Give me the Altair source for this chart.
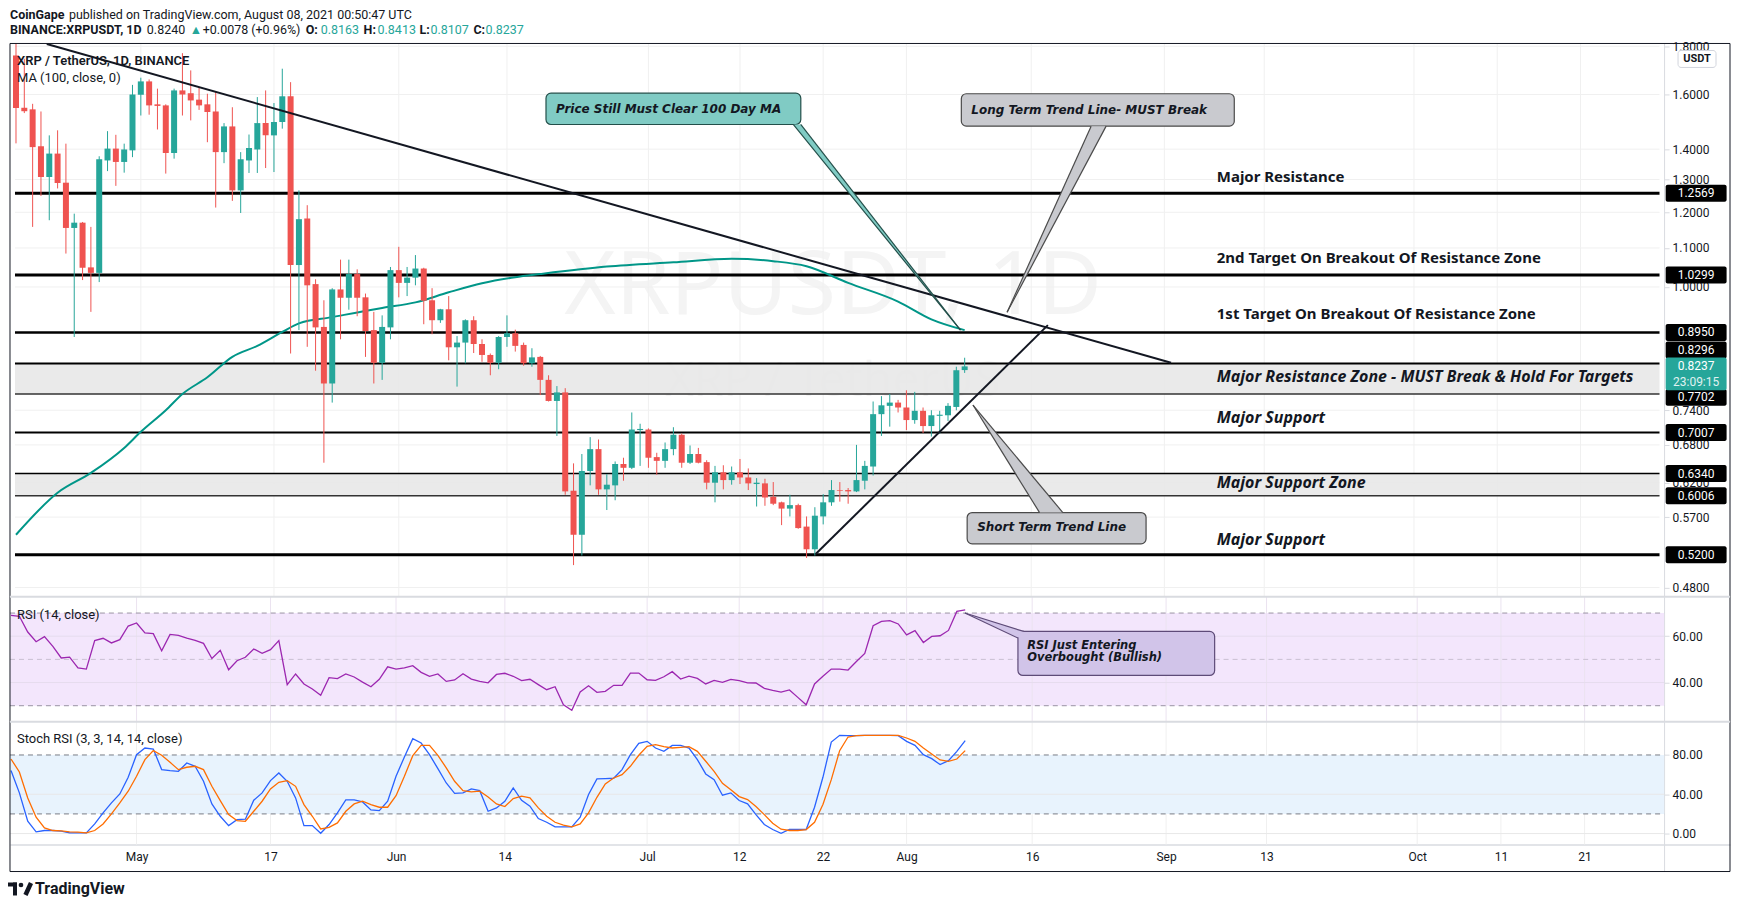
import math
import altair as alt
import pandas as pd

# ---------------- data ----------------
START = "2021-04-16"   # first daily candle

opens = [1.760, 1.549, 1.543, 1.410, 1.308, 1.385, 1.290, 1.155, 1.170, 1.049,
         1.035, 1.362, 1.402, 1.357, 1.396, 1.599, 1.652, 1.562, 1.558, 1.387,
         1.616, 1.605, 1.580, 1.562, 1.535, 1.390, 1.480, 1.266, 1.362, 1.399,
         1.492, 1.448, 1.496, 1.593, 1.055, 1.182, 1.007, 0.907, 0.790, 0.994,
         0.974, 1.032, 0.975, 0.900, 0.831, 0.906, 1.042, 1.010, 1.023, 1.046,
         0.968, 0.922, 0.947, 0.863, 0.873, 0.922, 0.870, 0.847, 0.831, 0.885,
         0.893, 0.868, 0.830, 0.843, 0.797, 0.757, 0.773, 0.608, 0.546, 0.638,
         0.673, 0.610, 0.616, 0.649, 0.643, 0.705, 0.706, 0.660, 0.654, 0.673,
         0.697, 0.651, 0.665, 0.652, 0.620, 0.636, 0.624, 0.636, 0.628, 0.618,
         0.619, 0.599, 0.591, 0.582, 0.587, 0.557, 0.527, 0.571, 0.591, 0.609,
         0.609, 0.607, 0.623, 0.645, 0.733, 0.748, 0.754, 0.745, 0.7225, 0.739,
         0.712, 0.730, 0.731, 0.746, 0.8163]
highs = [1.812, 1.746, 1.564, 1.535, 1.448, 1.466, 1.419, 1.196, 1.172, 1.158,
         1.376, 1.463, 1.450, 1.419, 1.638, 1.667, 1.660, 1.623, 1.562, 1.623,
         1.770, 1.697, 1.629, 1.603, 1.610, 1.492, 1.551, 1.390, 1.451, 1.590,
         1.616, 1.567, 1.704, 1.649, 1.266, 1.221, 1.019, 0.968, 0.997, 1.069,
         1.069, 1.044, 0.984, 0.941, 0.933, 1.050, 1.103, 1.050, 1.081, 1.048,
         0.997, 0.948, 0.978, 0.887, 0.924, 0.931, 0.880, 0.850, 0.887, 0.933,
         0.901, 0.873, 0.861, 0.845, 0.806, 0.785, 0.781, 0.650, 0.665, 0.693,
         0.689, 0.633, 0.653, 0.659, 0.736, 0.716, 0.708, 0.667, 0.684, 0.710,
         0.699, 0.679, 0.675, 0.655, 0.646, 0.647, 0.645, 0.657, 0.642, 0.627,
         0.626, 0.621, 0.592, 0.602, 0.589, 0.571, 0.584, 0.603, 0.624, 0.621,
         0.612, 0.680, 0.654, 0.756, 0.766, 0.770, 0.759, 0.777, 0.774, 0.745,
         0.740, 0.739, 0.753, 0.823, 0.8413]
lows = [1.420, 1.529, 1.158, 1.249, 1.177, 1.272, 1.085, 0.885, 1.017, 0.941,
        1.012, 1.327, 1.280, 1.322, 1.373, 1.520, 1.523, 1.469, 1.319, 1.368,
        1.520, 1.502, 1.541, 1.424, 1.214, 1.353, 1.234, 1.198, 1.321, 1.321,
        1.337, 1.324, 1.472, 0.850, 0.900, 0.864, 0.815, 0.651, 0.754, 0.880,
        0.946, 0.931, 0.843, 0.790, 0.797, 0.880, 0.975, 0.978, 1.004, 0.913,
        0.891, 0.916, 0.836, 0.784, 0.830, 0.851, 0.833, 0.806, 0.818, 0.864,
        0.854, 0.825, 0.823, 0.768, 0.756, 0.695, 0.602, 0.507, 0.519, 0.616,
        0.602, 0.580, 0.594, 0.623, 0.641, 0.646, 0.643, 0.632, 0.643, 0.663,
        0.643, 0.649, 0.650, 0.610, 0.591, 0.610, 0.617, 0.618, 0.609, 0.585,
        0.586, 0.587, 0.559, 0.571, 0.554, 0.516, 0.519, 0.560, 0.586, 0.592,
        0.589, 0.606, 0.610, 0.631, 0.695, 0.711, 0.736, 0.705, 0.716, 0.700,
        0.694, 0.699, 0.721, 0.740, 0.8107]
closes = [1.548, 1.536, 1.407, 1.308, 1.385, 1.289, 1.155, 1.170, 1.048, 1.035,
          1.366, 1.402, 1.357, 1.399, 1.600, 1.652, 1.558, 1.556, 1.387, 1.616,
          1.600, 1.577, 1.558, 1.533, 1.390, 1.480, 1.266, 1.366, 1.404, 1.492,
          1.448, 1.496, 1.593, 1.055, 1.180, 1.004, 0.906, 0.790, 0.994, 0.974,
          1.032, 0.974, 0.898, 0.831, 0.907, 1.042, 1.010, 1.023, 1.046, 0.967,
          0.922, 0.947, 0.863, 0.873, 0.922, 0.870, 0.847, 0.831, 0.885, 0.893,
          0.866, 0.830, 0.842, 0.797, 0.757, 0.773, 0.607, 0.546, 0.638, 0.673,
          0.610, 0.617, 0.649, 0.643, 0.706, 0.707, 0.659, 0.654, 0.673, 0.697,
          0.651, 0.665, 0.651, 0.620, 0.636, 0.624, 0.636, 0.628, 0.619, 0.620,
          0.598, 0.589, 0.582, 0.587, 0.555, 0.527, 0.572, 0.591, 0.609, 0.608,
          0.607, 0.624, 0.646, 0.733, 0.749, 0.754, 0.745, 0.7225, 0.739, 0.712,
          0.731, 0.732, 0.748, 0.816, 0.8237]

rsi = [69.0, 68.6, 61.8, 57.6, 59.8, 55.6, 50.6, 51.0, 46.3, 45.8,
       58.1, 59.1, 57.1, 58.5, 64.4, 65.7, 61.4, 61.1, 53.7, 60.8,
       60.4, 59.2, 58.2, 56.9, 50.4, 53.9, 45.5, 49.4, 50.9, 54.5,
       52.6, 54.2, 58.1, 39.1, 43.7, 39.4, 37.2, 34.5, 42.1, 41.7,
       43.7, 42.4, 40.2, 38.2, 41.4, 46.8, 45.8, 46.3, 47.3, 44.4,
       42.7, 43.7, 40.5, 41.1, 43.8, 41.5, 40.5, 39.9, 43.5, 44.0,
       42.7, 40.8, 41.4, 39.1, 36.9, 38.2, 30.4, 28.0, 35.9, 38.6,
       35.8, 36.2, 38.8, 38.8, 44.1, 44.1, 41.2, 40.9, 42.5, 44.7,
       41.5, 42.8, 41.8, 39.4, 40.9, 40.1, 41.4, 40.8, 39.9, 39.8,
       37.5, 36.6, 35.9, 36.8, 33.6, 30.4, 39.4, 42.7, 45.8, 45.8,
       45.4, 49.1, 52.6, 64.5, 66.4, 66.7, 65.3, 60.6, 62.4, 57.3,
       59.9, 60.2, 62.5, 70.7, 71.4]

stoch_k = [64.1, 41.4, 12.5, 1.7, 3.1, 3.1, 2.4, 0.7, 0.7, 0.7,
           9.8, 21.0, 31.2, 40.3, 57.3, 80.3, 87.1, 86.1, 65.1, 64.1,
           63.4, 71.9, 68.5, 53.2, 30.2, 17.6, 8.1, 14.2, 14.6, 33.9,
           41.4, 53.9, 61.7, 53.2, 36.3, 8.1, 8.1, 0.3, 9.2, 21.0,
           34.2, 34.2, 32.2, 24.1, 23.4, 32.9, 58.3, 78.0, 96.6, 92.2,
           80.3, 66.1, 51.5, 41.0, 41.4, 45.4, 43.7, 22.7, 26.1, 32.9,
           46.4, 33.9, 27.8, 15.3, 11.5, 6.8, 6.8, 6.8, 16.6, 39.7,
           55.6, 55.9, 56.3, 65.1, 80.3, 91.9, 93.9, 87.1, 83.7, 89.8,
           89.8, 87.1, 75.3, 60.7, 54.9, 39.0, 41.4, 33.6, 30.2, 19.3,
           9.2, 4.1, 0.3, 4.1, 4.1, 4.1, 26.8, 57.3, 93.2, 100.0,
           99.7, 99.7, 100.0, 100.0, 100.0, 100.0, 99.7, 93.9, 89.8, 80.3,
           76.3, 70.2, 74.2, 83.7, 94.6]
stoch_d = [75.9, 62.7, 36.3, 16.6, 5.8, 3.1, 2.7, 1.7, 1.4, 0.7,
           3.1, 9.8, 20.0, 31.2, 43.1, 58.3, 75.3, 84.4, 79.7, 72.5,
           65.1, 67.5, 68.5, 65.1, 48.1, 33.6, 19.3, 13.2, 12.5, 22.7,
           32.9, 45.4, 52.2, 53.9, 48.1, 29.5, 17.6, 4.7, 6.4, 10.8,
           22.7, 30.2, 32.9, 29.5, 26.8, 26.8, 38.6, 58.3, 79.3, 89.8,
           89.8, 79.7, 66.8, 53.2, 43.7, 42.4, 43.1, 37.3, 30.2, 27.5,
           35.6, 38.0, 36.3, 26.1, 17.6, 11.5, 8.5, 6.8, 9.8, 21.0,
           36.9, 50.5, 56.6, 60.0, 68.5, 79.7, 88.8, 90.5, 88.5, 87.1,
           87.8, 88.5, 83.7, 73.6, 63.4, 51.2, 44.7, 37.6, 34.6, 27.5,
           19.3, 10.5, 4.4, 3.1, 3.1, 4.1, 11.5, 29.5, 54.9, 84.4,
           98.3, 99.7, 100.0, 100.0, 100.0, 100.0, 100.0, 97.3, 93.9, 87.1,
           81.0, 74.9, 73.6, 75.9, 84.4]

ma_dates = ["2021-04-16", "2021-04-21", "2021-04-25", "2021-04-29", "2021-05-01",
            "2021-05-04", "2021-05-06", "2021-05-09", "2021-05-12", "2021-05-15",
            "2021-05-18", "2021-05-20", "2021-05-24", "2021-05-30", "2021-06-03",
            "2021-06-07", "2021-06-11", "2021-06-15", "2021-06-18", "2021-06-26",
            "2021-07-04", "2021-07-11", "2021-07-16", "2021-07-20", "2021-07-25",
            "2021-07-31", "2021-08-04", "2021-08-08"]
ma_values = [0.546, 0.605, 0.635, 0.675, 0.702, 0.740, 0.770, 0.802, 0.843, 0.866,
             0.896, 0.915, 0.929, 0.950, 0.963, 0.987, 1.009, 1.024, 1.032, 1.051,
             1.062, 1.071, 1.065, 1.052, 1.010, 0.965, 0.924, 0.900]

levels = [1.2569, 1.0299, 0.8950, 0.8296, 0.7702, 0.7007, 0.6340, 0.6006, 0.5200]
level_widths = [3, 3, 2.5, 2, 1.5, 2, 1.5, 1.5, 3]
level_colors = ["#000000", "#000000", "#000000", "#000000", "#333333",
                "#000000", "#000000", "#333333", "#000000"]
zones = [(0.7702, 0.8296), (0.6006, 0.6340)]
last_price = 0.8237
countdown = "23:09:15"

tick_dates = ["2021-05-01", "2021-05-17", "2021-06-01", "2021-06-14", "2021-07-01",
              "2021-07-12", "2021-07-22", "2021-08-01", "2021-08-16", "2021-09-01",
              "2021-09-13", "2021-10-01", "2021-10-11", "2021-10-21"]
tick_labels = ["May", "17", "Jun", "14", "Jul", "12", "22", "Aug", "16", "Sep",
               "13", "Oct", "11", "21"]
price_ticks = [0.48, 0.57, 0.62, 0.68, 0.74, 1.0, 1.1, 1.2, 1.3, 1.4, 1.6, 1.8]

# drawings (time as day offset from START, price)
long_trend = [(3.7, 1.810), (138.8, 0.831)]
short_trend = [(96.1, 0.521), (124.0, 0.911)]

right_texts = [("Major Resistance", 1.307, False),
               ("2nd Target On Breakout Of Resistance Zone", 1.072, False),
               ("1st Target On Breakout Of Resistance Zone", 0.936, False),
               ("Major Resistance Zone - MUST Break & Hold For Targets", 0.803, True),
               ("Major Support", 0.726, True),
               ("Major Support Zone", 0.619, True),
               ("Major Support", 0.5395, True)]
RIGHT_TEXT_DAY = 144.3

boxes = [  # id, x0, x1, bottom, top, fill, stroke, text, text_x, text_y
    ("ma", 63.69, 94.31, 1.487, 1.605, "#80cbc4", "#234f4a",
     "Price Still Must Clear 100 Day MA", 64.9, 1.546),
    ("long", 113.6, 146.4, 1.481, 1.603, "#c9cacf", "#4a4a4a",
     "Long Term Trend Line- MUST Break", 114.8, 1.540),
    ("short", 114.3, 135.8, 0.534, 0.5764, "#c9cacf", "#4a4a4a",
     "Short Term Trend Line", 115.5, 0.5562),
]
callouts = [  # id, tip, base1, base2, fill, stroke
    ("ma", (113.5, 0.900), (93.4, 1.487), (94.3, 1.487), "#80cbc4", "#234f4a"),
    ("long", (119.1, 0.940), (129.2, 1.481), (131.0, 1.481), "#c9cacf", "#4a4a4a"),
    ("short", (115.0, 0.7495), (123.0, 0.5764), (125.8, 0.5764), "#c9cacf", "#4a4a4a"),
]
rsi_box = (120.3, 143.8, 43.07, 62.06, "#d1c4e9", "#5e4b78")
rsi_box_lines = [("RSI Just Entering", 55.9), ("Overbought (Bullish)", 50.4)]
rsi_callout = ((113.96, 70.0), (120.3, 59.2), (121.0, 62.06))
RSI_TEXT_DAY = 121.4

header_bold = [("CoinGape", 0, 6.5, "#131722"), ("BINANCE:XRPUSDT, 1D", 0, 22, "#131722"),
               ("O:", 296, 22, "#131722"), ("H:", 354, 22, "#131722"),
               ("L:", 410, 22, "#131722"), ("C:", 464, 22, "#131722")]
header_normal = [("published on TradingView.com, August 08, 2021 00:50:47 UTC", 59, 6.5, "#131722"),
                 ("0.8240", 137, 22, "#131722"), ("▲", 180, 22, "#26a69a"),
                 ("+0.0078 (+0.96%)", 193, 22, "#131722"),
                 ("0.8163", 311, 22, "#26a69a"), ("0.8413", 368, 22, "#26a69a"),
                 ("0.8107", 421, 22, "#26a69a"), ("0.8237", 476, 22, "#26a69a")]

# ---------------- layout constants ----------------
W = 1722
H_HEAD, H_MAIN, H_RSI, H_STOCH, H_FOOT = 35, 554, 125, 150, 30
X0, X1 = -0.12, 205.37          # visible day range (whole frame)
XAX = 197.5                      # day at the price-axis border
PRICE_DOMAIN = [0.4692, 1.8123]
RSI_DOMAIN = [23.1, 77.0]
STOCH_DOMAIN = [-38.66, 113.9]
GREEN, RED = "#26a69a", "#ef5350"
GRID = "#f0f0f0"
SEP = "#d9dbe0"
UI = "Roboto"
ANN = "Noto Sans"
BOXFONT = "DejaVu Sans"


def day_of(d):
    return (pd.Timestamp(d) - pd.Timestamp(START)).days


tick_days = [day_of(d) for d in tick_dates]

xs = alt.Scale(domain=[X0, X1], nice=False, zero=False)


def X(field, axis=None):
    return alt.X(f"{field}:Q", scale=xs, axis=axis)


def right_axis(values, fmt):
    return alt.Axis(orient="right", offset=-66, values=values, format=fmt, grid=False,
                    domainColor=SEP, domainWidth=1, tickColor=SEP, tickSize=5,
                    labelPadding=3, labelFont=UI, labelFontSize=12, labelColor="#131722",
                    labelOverlap=False, labelFlush=False, title=None)


price_scale = alt.Scale(type="log", domain=PRICE_DOMAIN, nice=False)
price_axis = right_axis(price_ticks, ".4f")


def YP(field):
    return alt.Y(f"{field}:Q", scale=price_scale, axis=price_axis)


one = pd.DataFrame({"k": [0]})


def borders(h, top=None, bottom=None):
    out = [alt.Chart(one).mark_rule(color="#131722", strokeWidth=1).encode(x=alt.value(0)),
           alt.Chart(one).mark_rule(color="#131722", strokeWidth=1).encode(x=alt.value(W))]
    if top:
        out.append(alt.Chart(one).mark_rule(color=top[0], strokeWidth=top[1]).encode(y=alt.value(0)))
    if bottom:
        out.append(alt.Chart(one).mark_rule(color=bottom[0], strokeWidth=bottom[1]).encode(y=alt.value(h)))
    return out


def triangle_rows(cid, verts, log):
    vs = sorted(verts, key=lambda v: v[0])
    (a, ya), (b, yb), (c, yc) = vs
    t = (b - a) / (c - a)
    if log:
        yi = math.exp(math.log(ya) + t * (math.log(yc) - math.log(ya)))
    else:
        yi = ya + t * (yc - ya)
    return [dict(id=cid, x=a, top=ya, bot=ya),
            dict(id=cid, x=b, top=max(yb, yi), bot=min(yb, yi)),
            dict(id=cid, x=c, top=yc, bot=yc)]


# ---------------- header ----------------
hb = pd.DataFrame(header_bold, columns=["t", "px", "py", "c"])
hn = pd.DataFrame(header_normal, columns=["t", "px", "py", "c"])
hx = alt.X("px:Q", scale=None, axis=None)
hy = alt.Y("py:Q", scale=None, axis=None)
header = alt.layer(
    alt.Chart(hb).mark_text(align="left", baseline="middle", font=UI, fontSize=12.5,
                            fontWeight="bold").encode(x=hx, y=hy, text="t:N",
                                                      color=alt.Color("c:N", scale=None)),
    alt.Chart(hn).mark_text(align="left", baseline="middle", font=UI, fontSize=12.5).encode(
        x=hx, y=hy, text="t:N", color=alt.Color("c:N", scale=None)),
).properties(width=W, height=H_HEAD)

# ---------------- main pane ----------------
n = len(opens)
candles = pd.DataFrame({"day": list(range(n)), "open": opens, "high": highs,
                        "low": lows, "close": closes})
candles["dir"] = ["up" if c >= o else "down" for o, c in zip(opens, closes)]
dir_color = alt.Color("dir:N", scale=alt.Scale(domain=["up", "down"], range=[GREEN, RED]),
                      legend=None)

ma_df = pd.DataFrame({"day": [day_of(d) for d in ma_dates], "ma": ma_values})
ticks_df = pd.DataFrame({"day": tick_days})
pgrid_df = pd.DataFrame({"p": price_ticks, "x0": X0, "x1": XAX})
zones_df = pd.DataFrame({"lo": [z[0] for z in zones], "hi": [z[1] for z in zones],
                         "x0": X0, "x1": XAX})
levels_df = pd.DataFrame({"p": levels, "w": level_widths, "c": level_colors, "x0": X0, "x1": XAX})
trend_df = pd.DataFrame([dict(id="long", day=d, p=p) for d, p in long_trend] +
                        [dict(id="short", day=d, p=p) for d, p in short_trend])

area_rows, edge_rows = [], []
for cid, tip, b1, b2, fill, stroke in callouts:
    for r in triangle_rows(cid, [tip, b1, b2], True):
        r["fill"] = fill
        area_rows.append(r)
    for j, b in enumerate([b1, b2]):
        edge_rows.append(dict(id=f"{cid}{j}", x=tip[0], p=tip[1], s=stroke, o=0))
        edge_rows.append(dict(id=f"{cid}{j}", x=b[0], p=b[1], s=stroke, o=1))
area_df = pd.DataFrame(area_rows)
edge_df = pd.DataFrame(edge_rows)
box_df = pd.DataFrame([dict(id=b[0], x0=b[1], x1=b[2], bot=b[3], top=b[4], fill=b[5],
                            stroke=b[6], t=b[7], tx=b[8], ty=b[9]) for b in boxes])

rt_df = pd.DataFrame([dict(t=t, p=p, it=it, x=RIGHT_TEXT_DAY) for t, p, it in right_texts])

LABEL_DAY = 201.9
lab_df = pd.DataFrame({"p": levels, "t": [f"{v:.4f}" for v in levels], "x": LABEL_DAY})
lab_plain = lab_df[~lab_df["p"].isin([0.8296, 0.7702])]
lab_up = lab_df[lab_df["p"] == 0.8296]
lab_dn = lab_df[lab_df["p"] == 0.7702]
last_df = pd.DataFrame({"p": [last_price], "t": [f"{last_price:.4f}"], "c": [countdown],
                        "x": [LABEL_DAY]})


def label_layers(df, shift):
    return [
        alt.Chart(df).mark_tick(orient="horizontal", size=61, thickness=17, color="#000000",
                                opacity=1, cornerRadius=2, yOffset=shift).encode(
            x=X("x"), y=YP("p")),
        alt.Chart(df).mark_text(color="white", font=UI, fontSize=12, align="center",
                                baseline="middle", dy=shift).encode(
            x=X("x"), y=YP("p"), text="t:N"),
    ]


main_layers = [
    alt.Chart(one).mark_text(text="XRPUSDT, 1D", font=ANN, fontSize=88, color="#f4f4f4",
                             align="center", baseline="middle").encode(
        x=alt.value(824), y=alt.value(245)),
    alt.Chart(one).mark_text(text="XRP / TetherUS", font=ANN, fontSize=48, color="#f4f4f4",
                             align="center", baseline="middle").encode(
        x=alt.value(824), y=alt.value(339)),
    alt.Chart(ticks_df).mark_rule(color=GRID, strokeWidth=1).encode(x=X("day")),
    alt.Chart(pgrid_df).mark_rule(color=GRID, strokeWidth=1).encode(
        x=X("x0"), x2="x1", y=YP("p")),
    alt.Chart(zones_df).mark_rect(color="#e8e8e8", opacity=0.9).encode(
        x=X("x0"), x2="x1", y=YP("lo"), y2="hi"),
    alt.Chart(levels_df).mark_rule().encode(
        x=X("x0"), x2="x1", y=YP("p"),
        strokeWidth=alt.StrokeWidth("w:Q", scale=None),
        color=alt.Color("c:N", scale=None)),
    alt.Chart(ma_df).mark_line(color="#009688", strokeWidth=2, interpolate="monotone").encode(
        x=X("day"), y=YP("ma")),
    alt.Chart(candles).mark_rule(strokeWidth=1).encode(
        x=X("day"), y=YP("low"), y2="high", color=dir_color),
    alt.Chart(candles).mark_bar(size=6).encode(
        x=X("day"), y=YP("open"), y2="close", color=dir_color),
    alt.Chart(trend_df).mark_line(color="#131722", strokeWidth=2, clip=True).encode(
        x=X("day"), y=YP("p"), detail="id:N"),
    alt.Chart(box_df).mark_rect(cornerRadius=5, strokeWidth=1.2).encode(
        x=X("x0"), x2="x1", y=YP("bot"), y2="top",
        fill=alt.Fill("fill:N", scale=None), stroke=alt.Stroke("stroke:N", scale=None)),
    alt.Chart(area_df).mark_area(orient="vertical").encode(
        x=X("x"), y=YP("top"), y2="bot", color=alt.Color("fill:N", scale=None), detail="id:N"),
    alt.Chart(edge_df).mark_line(strokeWidth=1.2).encode(
        x=X("x"), y=YP("p"), detail="id:N", order="o:Q",
        color=alt.Color("s:N", scale=None)),
    alt.Chart(box_df).mark_text(align="left", baseline="middle", font=BOXFONT, fontSize=12,
                                fontWeight="bold", fontStyle="italic", color="#131722").encode(
        x=X("tx"), y=YP("ty"), text="t:N"),
    alt.Chart(rt_df[~rt_df["it"]]).mark_text(align="left", baseline="middle", font=ANN,
                                             fontSize=15, fontWeight="bold",
                                             color="#131722").encode(
        x=X("x"), y=YP("p"), text="t:N"),
    alt.Chart(rt_df[rt_df["it"]]).mark_text(align="left", baseline="middle", font=ANN,
                                            fontSize=16, fontWeight="bold", fontStyle="italic",
                                            color="#131722").encode(
        x=X("x"), y=YP("p"), text="t:N"),
]
main_layers += label_layers(lab_plain, 0)
main_layers += label_layers(lab_up, -13.5)
main_layers += label_layers(lab_dn, 3.5)
main_layers += [
    alt.Chart(last_df).mark_tick(orient="horizontal", size=61, thickness=33, color=GREEN,
                                 opacity=1, cornerRadius=2, yOffset=7.5).encode(
        x=X("x"), y=YP("p")),
    alt.Chart(last_df).mark_text(color="white", font=UI, fontSize=12, align="center",
                                 baseline="middle").encode(x=X("x"), y=YP("p"), text="t:N"),
    alt.Chart(last_df).mark_text(color="#e0f2f1", font=UI, fontSize=12, align="center",
                                 baseline="middle", dy=16).encode(x=X("x"), y=YP("p"), text="c:N"),
    alt.Chart(one).mark_rect(fill="white", stroke="#d1d4dc", cornerRadius=3).encode(
        x=alt.value(1670), x2=alt.value(1708), y=alt.value(7), y2=alt.value(24)),
    alt.Chart(one).mark_text(text="USDT", font=UI, fontSize=11, fontWeight="bold",
                             color="#131722", align="center", baseline="middle").encode(
        x=alt.value(1689), y=alt.value(15.5)),
    alt.Chart(one).mark_text(text="XRP / TetherUS, 1D, BINANCE", font=UI, fontSize=13,
                             fontWeight=600, color="#131722", align="left",
                             baseline="middle").encode(x=alt.value(7), y=alt.value(17.7)),
    alt.Chart(one).mark_text(text="MA (100, close, 0)", font=UI, fontSize=13,
                             color="#131722", align="left", baseline="middle").encode(
        x=alt.value(7), y=alt.value(34.7)),
]
main_layers += borders(H_MAIN, top=("#131722", 1))
main = alt.layer(*main_layers).properties(width=W, height=H_MAIN)

# ---------------- RSI pane ----------------
rsi_scale = alt.Scale(domain=RSI_DOMAIN, nice=False, zero=False)
rsi_axis = right_axis([40, 60], ".2f")


def YR(field):
    return alt.Y(f"{field}:Q", scale=rsi_scale, axis=rsi_axis)


rsi_df = pd.DataFrame({"day": list(range(n)), "rsi": rsi})
rband = pd.DataFrame({"lo": [30], "hi": [70], "x0": [X0], "x1": [XAX]})
rgrid = pd.DataFrame({"v": [40, 60], "x0": X0, "x1": XAX})
rdash = pd.DataFrame({"v": [70, 30], "x0": X0, "x1": XAX})
rmid = pd.DataFrame({"v": [50], "x0": [X0], "x1": [XAX]})
rbox = pd.DataFrame([dict(x0=rsi_box[0], x1=rsi_box[1], bot=rsi_box[2], top=rsi_box[3])])
rtri = pd.DataFrame(triangle_rows("rsi", list(rsi_callout), False))
tip, p1, p2 = rsi_callout
redge = pd.DataFrame([dict(id="a", x=tip[0], v=tip[1], o=0), dict(id="a", x=p1[0], v=p1[1], o=1),
                      dict(id="b", x=tip[0], v=tip[1], o=0), dict(id="b", x=p2[0], v=p2[1], o=1)])
rtext = pd.DataFrame([dict(t=t, v=v, x=RSI_TEXT_DAY) for t, v in rsi_box_lines])

rsi_layers = [
    alt.Chart(rband).mark_rect(color="#f3e6fc").encode(x=X("x0"), x2="x1", y=YR("lo"), y2="hi"),
    alt.Chart(ticks_df).mark_rule(color="#ebe3f0", strokeWidth=1).encode(x=X("day")),
    alt.Chart(rgrid).mark_rule(color="#e6dcee", strokeWidth=1).encode(x=X("x0"), x2="x1", y=YR("v")),
    alt.Chart(rdash).mark_rule(color="#9a93a3", strokeWidth=1, strokeDash=[5, 4]).encode(
        x=X("x0"), x2="x1", y=YR("v")),
    alt.Chart(rmid).mark_rule(color="#c9c0d2", strokeWidth=1, strokeDash=[5, 4]).encode(
        x=X("x0"), x2="x1", y=YR("v")),
    alt.Chart(rsi_df).mark_line(color="#9c27b0", strokeWidth=1.3).encode(x=X("day"), y=YR("rsi")),
    alt.Chart(rbox).mark_rect(cornerRadius=5, strokeWidth=1.2, fill=rsi_box[4],
                              stroke=rsi_box[5]).encode(x=X("x0"), x2="x1", y=YR("bot"), y2="top"),
    alt.Chart(rtri).mark_area(orient="vertical", color=rsi_box[4]).encode(
        x=X("x"), y=YR("top"), y2="bot"),
    alt.Chart(redge).mark_line(strokeWidth=1.2, color=rsi_box[5]).encode(
        x=X("x"), y=YR("v"), detail="id:N", order="o:Q"),
    alt.Chart(rtext).mark_text(align="left", baseline="middle", font=BOXFONT, fontSize=11.5,
                               fontWeight="bold", fontStyle="italic", color="#131722").encode(
        x=X("x"), y=YR("v"), text="t:N"),
    alt.Chart(one).mark_text(text="RSI (14, close)", font=UI, fontSize=13, color="#131722",
                             align="left", baseline="middle").encode(
        x=alt.value(7), y=alt.value(18)),
]
rsi_layers += borders(H_RSI, top=(SEP, 2))
rsi_chart = alt.layer(*rsi_layers).properties(width=W, height=H_RSI)

# ---------------- Stoch RSI pane + date strip ----------------
stoch_scale = alt.Scale(domain=STOCH_DOMAIN, nice=False, zero=False)
stoch_axis = right_axis([0, 40, 80], ".2f")
label_expr = "".join([f"datum.value == {d} ? '{l}' : " for d, l in zip(tick_days, tick_labels)]) + "''"
date_axis = alt.Axis(orient="bottom", offset=-27, values=tick_days, labelExpr=label_expr,
                     domainColor=SEP, domainWidth=1.5, ticks=False, labelPadding=7,
                     labelFont=UI, labelFontSize=12, labelColor="#131722", grid=False,
                     labelFlush=False, labelOverlap=False, title=None)


def XS(field):
    return alt.X(f"{field}:Q", scale=xs, axis=date_axis)


def YS(field):
    return alt.Y(f"{field}:Q", scale=stoch_scale, axis=stoch_axis)


st_df = pd.DataFrame({"day": list(range(n)), "k": stoch_k, "d": stoch_d})
sband = pd.DataFrame({"lo": [20], "hi": [80], "x0": [X0], "x1": [XAX]})
sgrid = pd.DataFrame({"v": [0, 40], "x0": X0, "x1": XAX})
sdash = pd.DataFrame({"v": [80, 20], "x0": X0, "x1": XAX})

stoch_layers = [
    alt.Chart(ticks_df).mark_rule(color=GRID, strokeWidth=1).encode(
        x=XS("day"), y=alt.value(0), y2=alt.value(123)),
    alt.Chart(sband).mark_rect(color="#e8f3fd").encode(x=XS("x0"), x2="x1", y=YS("lo"), y2="hi"),
    alt.Chart(sgrid).mark_rule(color="#e8e8e8", strokeWidth=1).encode(x=XS("x0"), x2="x1", y=YS("v")),
    alt.Chart(sdash).mark_rule(color="#787b86", strokeWidth=1, strokeDash=[5, 4]).encode(
        x=XS("x0"), x2="x1", y=YS("v")),
    alt.Chart(st_df).mark_line(color="#2962ff", strokeWidth=1.3).encode(x=XS("day"), y=YS("k")),
    alt.Chart(st_df).mark_line(color="#ff6d00", strokeWidth=1.3).encode(x=XS("day"), y=YS("d")),
    alt.Chart(one).mark_text(text="Stoch RSI (3, 3, 14, 14, close)", font=UI, fontSize=13,
                             color="#131722", align="left", baseline="middle").encode(
        x=alt.value(7), y=alt.value(17.3)),
]
stoch_layers += borders(H_STOCH, top=(SEP, 2), bottom=("#131722", 1))
stoch_chart = alt.layer(*stoch_layers).properties(width=W, height=H_STOCH)

# ---------------- footer (logo) ----------------
footer = alt.layer(
    alt.Chart(one).mark_rect(color="#131722").encode(
        x=alt.value(-2), x2=alt.value(7), y=alt.value(11), y2=alt.value(15)),
    alt.Chart(one).mark_rect(color="#131722").encode(
        x=alt.value(3), x2=alt.value(7), y=alt.value(11), y2=alt.value(24)),
    alt.Chart(one).mark_point(filled=True, color="#131722", size=22, opacity=1).encode(
        x=alt.value(11), y=alt.value(13.5)),
    alt.Chart(one).mark_rule(color="#131722", strokeWidth=4.5).encode(
        x=alt.value(15.5), x2=alt.value(21), y=alt.value(23.5), y2=alt.value(11.5)),
    alt.Chart(one).mark_text(text="TradingView", font=UI, fontSize=16, fontWeight="bold",
                             color="#131722", align="left", baseline="middle").encode(
        x=alt.value(25), y=alt.value(18)),
).properties(width=W, height=H_FOOT)

chart = alt.vconcat(header, main, rsi_chart, stoch_chart, footer, spacing=0).properties(
    bounds="flush", padding={"left": 0, "top": 0, "right": 0, "bottom": 0}
).configure_view(strokeWidth=0)

chart.save("out.html", embed_options={"renderer": "svg", "actions": False})
